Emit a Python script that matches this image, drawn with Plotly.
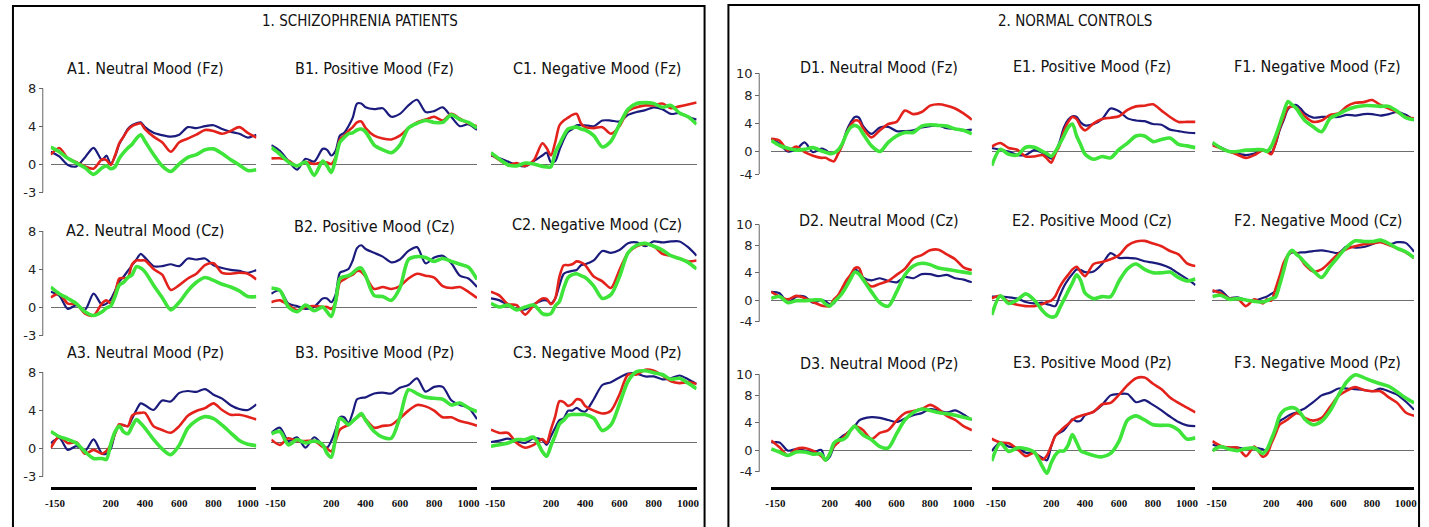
import plotly.graph_objects as go

W, H = 1429, 527

# ---------------------------------------------------------------- data
TIME_MS = [-150, -100, -50, 0, 50, 100, 150, 175, 200, 225, 250, 275, 300, 325,
           350, 375, 400, 450, 500, 550, 600, 650, 700, 750, 800, 850, 900,
           950, 1000, 1050]

# 1. Schizophrenia patients
A1_NAVY = [1.3, 0.8, -0.1, -0.25, 0.7, 1.7, 0.4, 0.9, 0.0, 0.8, 2.1, 2.9, 3.7, 4.1, 4.3, 4.4, 3.9, 3.3, 3.05, 2.9, 3.1, 3.9, 3.8, 4.0, 4.1, 3.7, 3.4, 3.2, 2.8, 3.1]
A1_RED = [1.0, 1.7, 0.6, 0.2, -0.25, -0.5, 0.5, 0.4, -0.1, 0.9, 2.2, 2.9, 3.6, 4.0, 4.2, 4.3, 3.7, 2.9, 2.3, 1.3, 2.3, 2.7, 3.1, 3.6, 3.5, 3.2, 3.5, 3.9, 3.3, 2.8]
A1_GREEN = [1.8, 1.3, 0.6, 0.1, -0.4, -1.1, -0.4, -0.2, -0.5, -0.3, 0.6, 1.2, 1.7, 2.1, 2.7, 3.1, 2.4, 1.0, -0.2, -0.8, 0.0, 0.7, 1.0, 1.5, 1.6, 1.1, 0.45, -0.1, -0.7, -0.6]

B1_NAVY = [2.0, 1.4, 0.3, -0.6, 0.55, 0.25, 1.6, 1.5, 0.9, 1.4, 3.0, 3.3, 4.0, 4.9, 6.4, 6.4, 6.0, 5.8, 5.9, 5.0, 5.3, 6.2, 6.8, 5.5, 5.6, 6.0, 5.0, 4.0, 4.2, 3.6]
B1_RED = [0.6, 0.6, 0.35, -0.2, 0.2, 0.0, 0.2, 0.15, 0.0, 0.7, 2.6, 3.0, 3.5, 3.9, 4.4, 4.5, 3.8, 3.0, 2.7, 2.6, 3.0, 3.8, 4.4, 4.7, 5.0, 4.6, 5.3, 4.8, 4.3, 4.0]
B1_GREEN = [1.75, 1.05, 0.2, -0.2, 0.2, -1.2, 0.3, -0.2, -0.9, 0.5, 2.3, 2.8, 3.2, 3.3, 3.6, 3.7, 3.4, 2.0, 1.5, 1.2, 2.0, 3.8, 4.3, 4.6, 4.4, 4.4, 5.2, 4.7, 4.4, 3.8]

C1_NAVY = [0.9, 0.6, 0.25, -0.1, -0.25, 0.3, 0.9, 1.2, 0.2, 0.3, 1.5, 2.6, 3.4, 3.7, 4.1, 4.1, 4.1, 4.0, 4.6, 4.6, 4.5, 5.2, 5.5, 5.7, 6.0, 5.8, 5.3, 5.4, 5.0, 4.7]
C1_RED = [1.05, 0.4, -0.1, 0.1, -0.2, 0.4, 2.2, 1.7, 0.9, 2.3, 4.1, 4.6, 4.9, 5.2, 5.3, 4.3, 3.9, 3.8, 3.9, 3.2, 4.0, 5.6, 6.0, 6.2, 6.2, 6.4, 5.9, 6.1, 6.3, 6.5]
C1_GREEN = [1.2, 0.5, -0.1, -0.2, 0.1, 0.0, -0.25, -0.3, -0.3, 1.2, 2.1, 3.0, 3.7, 3.85, 3.9, 3.7, 3.6, 3.0, 1.8, 2.4, 4.2, 5.8, 6.4, 6.5, 6.4, 6.0, 6.2, 5.4, 5.0, 4.2]

A2_NAVY = [1.6, 1.2, -0.2, 0.2, -0.3, 1.4, 0.2, 0.35, 0.8, 1.7, 2.7, 3.2, 3.8, 4.4, 5.0, 5.6, 5.2, 4.3, 4.3, 4.5, 4.3, 5.1, 5.0, 5.1, 4.4, 4.1, 3.9, 3.8, 3.6, 3.9]
A2_RED = [1.0, 1.4, 0.35, 0.3, -0.7, -0.9, 0.4, 0.7, 0.4, 1.4, 3.0, 3.05, 3.1, 4.5, 4.9, 4.9, 4.9, 4.0, 3.4, 1.8, 2.3, 3.0, 3.5, 4.4, 4.6, 3.6, 3.5, 3.6, 3.5, 2.9]
A2_GREEN = [2.1, 1.4, 0.9, 0.35, -0.5, -0.9, -0.5, -0.1, 0.1, 1.1, 2.3, 2.6, 3.1, 3.4, 4.25, 4.1, 3.7, 2.3, 1.0, -0.3, 0.5, 1.7, 2.6, 3.1, 2.8, 2.4, 2.1, 1.7, 1.1, 1.1]

B2_NAVY = [1.4, 1.75, 0.35, 0.1, -0.2, 0.0, 0.9, 0.9, 0.5, 1.3, 3.6, 3.8, 4.0, 4.9, 6.2, 6.5, 6.1, 5.7, 5.3, 4.7, 5.0, 5.9, 6.3, 4.6, 5.2, 5.4, 4.6, 3.3, 3.0, 2.1]
B2_RED = [0.5, 0.7, 0.2, -0.35, 0.0, 0.1, 0.0, 0.0, -0.2, 0.5, 2.6, 2.9, 3.2, 3.4, 3.8, 3.7, 3.2, 1.9, 2.1, 1.9, 2.2, 3.0, 3.5, 3.3, 3.1, 2.2, 2.0, 2.1, 1.6, 0.95]
B2_GREEN = [2.0, 1.75, 0.0, -0.5, 0.2, -0.4, 0.0, -0.5, -1.0, 0.6, 3.0, 3.2, 3.3, 3.6, 4.0, 4.1, 3.3, 1.2, 1.1, 0.7, 2.0, 5.0, 5.3, 5.2, 4.8, 5.1, 4.8, 4.5, 4.2, 2.9]

C2_NAVY = [0.9, 0.7, 0.2, -0.2, -0.25, 0.3, 0.7, 0.7, 0.4, 0.9, 2.3, 3.5, 3.7, 3.8, 3.9, 4.4, 4.5, 4.9, 5.9, 5.7, 6.0, 6.7, 6.8, 6.4, 6.9, 6.8, 6.9, 6.9, 6.3, 5.4]
C2_RED = [1.6, 1.2, 0.3, 0.2, -0.8, 0.2, 0.9, 0.85, 0.3, 0.9, 3.2, 4.4, 4.4, 4.5, 4.8, 4.7, 4.4, 3.2, 2.7, 2.0, 3.9, 5.7, 6.4, 6.6, 6.4, 5.6, 5.4, 5.1, 4.8, 4.9]
C2_GREEN = [0.4, 0.0, 0.2, -0.3, 0.0, 0.2, -0.7, -0.8, -0.7, 0.1, 0.6, 2.0, 3.1, 3.4, 3.5, 3.3, 3.1, 2.2, 0.9, 1.3, 3.2, 5.7, 6.5, 6.7, 6.4, 6.0, 5.4, 5.1, 4.7, 4.0]

A3_NAVY = [0.5, 1.05, -0.2, 0.2, -0.3, 0.9, -0.6, -0.6, -0.1, 1.5, 2.4, 2.4, 2.3, 3.1, 4.0, 4.7, 4.5, 4.0, 5.0, 4.9, 5.8, 6.0, 5.9, 6.2, 5.6, 5.2, 4.5, 4.1, 4.0, 4.6]
A3_RED = [0.0, 1.2, 0.5, 0.6, -0.6, -0.2, -0.6, -0.3, 0.3, 1.5, 2.5, 2.4, 2.3, 3.4, 3.65, 3.7, 3.7, 2.3, 1.9, 1.6, 2.3, 3.4, 3.9, 4.2, 4.7, 4.0, 3.5, 3.5, 3.3, 3.0]
A3_GREEN = [1.75, 1.2, 0.9, 0.5, -0.4, -1.1, -1.1, -1.2, 0.4, 1.7, 2.3, 1.7, 1.5, 2.3, 3.0, 2.6, 2.1, 0.9, -0.1, -0.7, 0.3, 2.1, 2.9, 3.3, 3.1, 2.4, 1.6, 0.8, 0.4, 0.25]

B3_NAVY = [0.95, 1.5, 0.1, 0.5, -0.6, 0.5, -0.3, -0.6, 0.1, 1.3, 2.6, 2.6, 2.0, 3.1, 4.5, 4.65, 4.7, 5.1, 5.2, 5.1, 5.7, 6.0, 6.7, 5.3, 5.8, 5.8, 4.4, 3.9, 3.6, 2.4]
B3_RED = [0.25, -0.3, 0.4, 0.1, 0.1, 0.1, -0.5, -0.7, -1.0, 0.1, 1.3, 1.6, 1.8, 2.2, 2.6, 2.85, 2.4, 1.5, 1.7, 1.8, 2.5, 3.3, 3.9, 3.75, 3.3, 2.6, 2.6, 2.2, 2.0, 1.7]
B3_GREEN = [0.85, 1.1, -0.3, 0.25, -0.1, 0.1, -0.3, -1.2, -1.6, 0.5, 2.5, 2.2, 1.8, 2.2, 2.6, 3.0, 2.3, 1.1, 0.5, 0.4, 2.6, 5.5, 5.1, 4.7, 4.6, 4.5, 3.9, 4.1, 3.6, 3.2]

C3_NAVY = [0.0, 0.15, 0.35, 0.1, -0.1, 0.4, 0.2, -0.3, 0.6, 1.5, 2.3, 2.5, 3.3, 3.3, 3.6, 3.3, 3.2, 4.5, 6.0, 6.3, 6.8, 7.2, 7.2, 6.9, 6.9, 6.6, 6.7, 7.0, 6.6, 6.1]
C3_RED = [1.3, 0.95, 0.95, -0.1, -0.6, -0.3, 0.3, -0.1, 1.3, 2.7, 4.3, 4.2, 3.8, 4.0, 4.5, 4.4, 3.8, 3.3, 3.0, 3.3, 5.0, 7.1, 7.1, 7.6, 7.5, 7.0, 6.4, 6.2, 6.3, 6.1]
C3_GREEN = [-0.45, -0.3, -0.1, 0.25, 0.25, 0.5, -1.0, -1.5, -0.4, 0.7, 1.9, 2.3, 2.8, 2.9, 2.9, 2.9, 2.9, 2.5, 1.2, 1.8, 4.0, 6.4, 7.4, 7.5, 7.3, 7.1, 6.6, 6.7, 6.2, 5.6]

# 2. Normal controls
D1_NAVY = [1.8, 1.1, 0.0, 0.3, 1.3, -0.1, 0.4, 0.2, -0.2, -0.2, 0.1, 1.0, 2.9, 4.1, 4.9, 4.8, 3.6, 2.5, 3.4, 3.5, 2.9, 2.9, 3.0, 3.4, 3.6, 3.7, 3.3, 3.2, 3.0, 3.1]
D1_RED = [1.8, 1.55, 0.15, 0.7, -0.1, -0.6, -0.9, -0.9, -1.2, -1.4, -0.35, 0.9, 2.6, 3.7, 4.4, 4.3, 3.3, 2.0, 3.0, 3.9, 4.2, 5.8, 5.3, 5.6, 6.5, 6.7, 6.5, 6.1, 5.4, 4.5]
D1_GREEN = [1.55, 0.85, 0.45, 0.2, 0.3, 0.55, 0.1, -0.1, -0.3, -0.2, 0.2, 1.1, 2.5, 3.4, 3.7, 3.4, 2.5, 0.8, 0.0, 1.3, 2.2, 2.7, 2.7, 3.6, 3.8, 3.7, 3.6, 3.2, 3.0, 2.5]

E1_NAVY = [0.5, 0.25, 0.0, -0.5, -0.5, 0.2, -0.2, -0.6, -1.0, -0.2, 1.4, 3.4, 4.5, 5.0, 4.9, 4.1, 3.7, 3.9, 4.6, 6.1, 5.7, 4.7, 4.4, 4.3, 3.9, 3.8, 3.1, 2.9, 2.7, 2.6]
E1_RED = [0.7, 1.2, 0.5, 0.25, -0.7, -0.7, -0.5, -1.0, -1.6, -0.3, 0.9, 2.9, 4.2, 4.9, 4.6, 3.5, 3.0, 4.0, 4.6, 4.8, 5.0, 5.9, 6.4, 6.5, 6.7, 5.8, 4.9, 4.2, 4.2, 4.2]
E1_GREEN = [-2.0, 0.3, -0.4, -0.5, 0.6, 0.6, 0.0, -0.3, -0.7, 0.0, 1.1, 2.2, 3.4, 3.9, 2.2, 0.9, -0.4, -1.1, -0.7, -0.9, 0.3, 1.2, 2.2, 2.2, 1.4, 1.7, 1.9, 1.0, 0.8, 0.55]

F1_NAVY = [1.1, 0.6, 0.0, -0.3, -0.5, -0.3, 0.2, 0.1, -0.2, 1.0, 3.0, 4.5, 6.0, 6.5, 6.6, 6.1, 5.4, 4.8, 4.9, 4.9, 4.9, 5.2, 5.1, 5.3, 5.3, 5.1, 5.3, 5.6, 5.2, 4.4]
F1_RED = [0.9, 0.45, 0.0, -0.45, -0.9, -0.5, 0.2, 0.0, -0.4, 1.1, 3.3, 4.8, 6.2, 6.4, 6.2, 5.6, 5.0, 4.2, 4.4, 5.2, 5.4, 6.4, 6.9, 7.0, 7.3, 6.6, 6.1, 5.6, 4.9, 4.7]
F1_GREEN = [1.3, 0.5, 0.0, 0.0, 0.2, 0.25, 0.25, 0.0, 0.7, 2.1, 3.8, 5.6, 7.1, 6.6, 6.1, 5.2, 4.4, 3.5, 2.8, 4.7, 5.3, 5.9, 6.3, 6.5, 6.5, 6.4, 6.4, 5.7, 4.8, 4.5]

D2_NAVY = [1.2, 1.0, -0.4, 0.5, 0.5, -0.4, 0.0, -0.2, -0.6, -0.5, 0.5, 1.0, 2.8, 3.2, 4.5, 4.1, 3.3, 2.9, 3.2, 2.8, 2.6, 3.4, 3.2, 3.8, 3.8, 3.5, 3.7, 3.2, 3.0, 2.6]
D2_RED = [1.2, 0.5, 0.1, 0.6, 0.3, -0.3, -0.8, -0.9, -0.9, 0.1, 0.7, 1.8, 2.9, 3.7, 4.7, 4.7, 3.2, 2.0, 2.4, 2.8, 3.7, 4.6, 6.1, 6.6, 7.3, 7.4, 6.7, 6.0, 4.8, 4.4]
D2_GREEN = [0.25, 0.5, -0.4, -0.1, -0.1, 0.0, 0.0, -0.6, -0.9, -0.3, 0.3, 1.0, 2.0, 3.1, 4.1, 3.8, 3.0, 1.2, -0.4, -0.9, 1.2, 3.7, 5.0, 5.4, 5.2, 4.7, 4.5, 4.3, 4.1, 3.9]

E2_NAVY = [0.5, 0.5, 0.4, 0.2, -0.3, -0.5, -0.4, -0.6, -0.8, -0.9, 0.6, 2.0, 3.0, 3.8, 4.5, 4.4, 4.1, 4.2, 5.3, 6.9, 6.2, 6.2, 6.1, 5.7, 5.5, 5.2, 4.7, 3.9, 3.1, 2.2]
E2_RED = [0.25, 0.6, -0.3, -0.7, -0.9, -0.9, -0.6, -0.3, -0.1, 0.6, 1.9, 2.9, 3.7, 4.5, 4.9, 4.1, 3.5, 5.3, 5.6, 6.0, 6.6, 8.0, 8.6, 8.7, 8.3, 7.9, 7.2, 6.7, 5.4, 5.0]
E2_GREEN = [-2.2, 0.6, -0.5, 0.0, 0.9, 0.0, -1.6, -2.2, -2.5, -2.4, -1.2, 0.05, 1.3, 2.5, 3.7, 2.8, 1.0, 0.2, 0.5, 0.5, 2.8, 4.6, 5.3, 4.5, 4.0, 4.0, 4.1, 3.3, 2.8, 3.1]

F2_NAVY = [1.2, 1.4, 0.3, 0.4, 0.0, -0.1, 0.3, 0.5, 0.9, 1.3, 2.8, 4.7, 6.5, 7.0, 6.9, 7.0, 7.0, 7.2, 7.3, 7.1, 6.9, 7.9, 7.7, 7.8, 8.2, 8.7, 8.2, 8.5, 8.4, 7.1]
F2_RED = [1.45, 1.0, 0.2, 0.2, -0.9, 0.1, -0.5, 0.1, -0.1, 1.6, 3.5, 5.5, 6.6, 7.1, 6.9, 6.1, 5.2, 4.2, 4.5, 5.6, 6.8, 7.5, 7.9, 8.2, 8.3, 8.5, 8.1, 7.6, 7.0, 6.2]
F2_GREEN = [0.5, 0.7, 0.1, 0.2, 0.0, -0.2, -0.3, -0.1, 0.2, 0.4, 2.2, 4.4, 6.6, 7.3, 6.7, 6.2, 5.5, 4.3, 3.3, 4.9, 6.4, 7.8, 8.7, 8.6, 8.6, 8.8, 8.3, 7.6, 7.1, 6.2]

D3_NAVY = [1.1, 1.1, -0.1, 0.15, -0.1, -0.35, 0.0, -1.5, -1.0, 0.5, 1.5, 2.0, 2.4, 2.9, 3.5, 4.3, 4.6, 4.8, 4.7, 4.4, 4.1, 4.6, 5.1, 5.4, 6.0, 5.8, 5.5, 5.8, 5.2, 4.4]
D3_RED = [1.4, 0.4, -0.8, 0.15, 0.3, -0.1, -0.9, -1.5, -0.5, 0.5, 1.1, 1.7, 2.3, 2.9, 3.5, 3.3, 2.9, 1.6, 2.5, 2.9, 4.3, 5.4, 5.7, 6.0, 6.6, 6.0, 5.0, 4.4, 3.5, 2.9]
D3_GREEN = [0.15, -0.3, -0.8, -0.3, -0.3, -0.6, -0.6, -1.5, -0.6, 1.0, 1.45, 1.5, 1.9, 2.9, 3.5, 2.8, 2.2, 1.5, 0.5, 0.3, 2.4, 4.4, 5.5, 6.0, 5.8, 5.5, 5.3, 5.1, 4.8, 4.5]

E3_NAVY = [-0.15, 1.1, 0.5, 0.3, -0.4, -0.45, -1.2, -1.5, 0.5, 2.1, 2.5, 2.9, 3.7, 4.5, 4.2, 4.3, 5.1, 5.6, 6.6, 8.0, 8.2, 8.2, 7.0, 7.3, 6.6, 5.8, 4.9, 4.1, 3.6, 3.5]
E3_RED = [1.65, 1.1, 1.0, 0.15, -0.9, -0.4, -1.4, -0.8, 0.6, 2.1, 2.7, 3.3, 3.8, 4.4, 4.8, 5.0, 5.2, 5.6, 6.7, 6.9, 8.1, 9.5, 10.5, 10.6, 9.7, 8.9, 7.7, 6.9, 6.2, 5.5]
E3_GREEN = [-1.6, 1.0, -0.2, 0.3, 0.2, -0.3, -2.5, -3.4, -1.9, -0.7, -0.15, -0.15, 0.7, 2.25, 1.1, -0.15, -0.4, -0.8, -1.0, -0.5, 1.3, 4.4, 5.0, 4.4, 3.7, 3.6, 3.6, 2.9, 1.6, 1.8]

F3_NAVY = [0.8, 0.4, 0.35, 0.35, 0.15, 0.3, 0.1, -0.2, 1.4, 2.8, 4.2, 4.6, 5.0, 5.3, 5.5, 5.8, 6.1, 7.0, 8.0, 8.4, 9.0, 9.0, 8.9, 8.8, 8.6, 9.0, 8.6, 8.1, 7.1, 5.9]
F3_RED = [1.3, 0.6, 0.35, 0.35, -0.9, 0.5, -1.0, -0.6, 0.9, 2.3, 3.7, 4.1, 4.5, 5.0, 5.4, 5.2, 4.7, 4.3, 4.7, 6.3, 7.9, 8.7, 9.2, 8.8, 8.6, 8.6, 7.7, 6.9, 5.5, 5.0]
F3_GREEN = [-0.1, 0.5, 0.1, -0.1, 0.2, 0.3, -0.5, 0.1, 1.5, 3.1, 5.0, 5.8, 6.1, 6.2, 6.0, 5.4, 4.5, 3.7, 4.2, 5.7, 8.0, 10.0, 11.0, 10.6, 10.1, 9.7, 9.3, 8.5, 7.6, 6.9]

GROUP_TITLES = ["1. SCHIZOPHRENIA PATIENTS", "2. NORMAL CONTROLS"]
PANEL_TITLES = [
    "A1. Neutral Mood (Fz)", "B1. Positive Mood (Fz)", "C1. Negative Mood (Fz)",
    "A2. Neutral Mood (Cz)", "B2. Positive Mood (Cz)", "C2. Negative Mood (Cz)",
    "A3. Neutral Mood (Pz)", "B3. Positive Mood (Pz)", "C3. Negative Mood (Pz)",
    "D1. Neutral Mood (Fz)", "E1. Positive Mood (Fz)", "F1. Negative Mood (Fz)",
    "D2. Neutral Mood (Cz)", "E2. Positive Mood (Cz)", "F2. Negative Mood (Cz)",
    "D3. Neutral Mood (Pz)", "E3. Positive Mood (Pz)", "F3. Negative Mood (Pz)",
]
PANEL_SERIES = [
    (A1_NAVY, A1_RED, A1_GREEN), (B1_NAVY, B1_RED, B1_GREEN), (C1_NAVY, C1_RED, C1_GREEN),
    (A2_NAVY, A2_RED, A2_GREEN), (B2_NAVY, B2_RED, B2_GREEN), (C2_NAVY, C2_RED, C2_GREEN),
    (A3_NAVY, A3_RED, A3_GREEN), (B3_NAVY, B3_RED, B3_GREEN), (C3_NAVY, C3_RED, C3_GREEN),
    (D1_NAVY, D1_RED, D1_GREEN), (E1_NAVY, E1_RED, E1_GREEN), (F1_NAVY, F1_RED, F1_GREEN),
    (D2_NAVY, D2_RED, D2_GREEN), (E2_NAVY, E2_RED, E2_GREEN), (F2_NAVY, F2_RED, F2_GREEN),
    (D3_NAVY, D3_RED, D3_GREEN), (E3_NAVY, E3_RED, E3_GREEN), (F3_NAVY, F3_RED, F3_GREEN),
]
for trio in PANEL_SERIES:
    for vals in trio:
        assert len(vals) == len(TIME_MS)

# the first time label sits a little inside the start of each trace
X_TICKS = [-125, 200, 400, 600, 800, 1000]
X_LABELS = ["-150", "200", "400", "600", "800", "1000"]
Y_TICKS = [[-3, 0, 4, 8], [-3.2, 0, 4, 8, 11.1]]
Y_LABELS = [["-3", "0", "4", "8"], ["-4", "0", "4", "8", "10"]]

# ---------------------------------------------------------------- style
LINE_COLORS = ["#1b1b7d", "#e3221c", "#3ee43a"]
LINE_WIDTHS = [2.2, 2.6, 3.6]
NARROW = "Liberation Sans Narrow, Arial Narrow, DejaVu Sans Condensed, sans-serif"
TICK_FONT = dict(family="DejaVu Sans, Verdana, sans-serif", size=13, color="#222")
XTICK_FONT = dict(family="Liberation Serif, Times New Roman, serif", size=11,
                  color="#111", weight="bold")

# pixel layout: column spans, row bands (top, bottom, zero line, px per unit)
COLS = [[(45, 252), (267, 474), (488, 695)],
        [(770, 972), (992, 1197), (1214, 1417)]]
ROWS = [[(80, 200, 164, 9.45), (220, 345, 307, 9.5), (362, 487, 448, 9.5)],
        [(66, 190, 151.5, 7.05), (212, 340, 300, 6.8), (364, 487, 450, 6.83)]]
ZERO_SHIFT = {(0, 2, 1): 442, (0, 2, 2): 442}
AXIS_X = [37, 758]
TITLE_XY = [
    [[(140, 68), (371, 68), (595, 68)],
     [(140, 230), (371, 227), (595, 224)],
     [(140, 352), (371, 352), (595, 352)]],
    [[(879, 67), (1093, 66), (1320, 66)],
     [(879, 220), (1093, 220), (1320, 220)],
     [(879, 363), (1093, 362), (1320, 362)]],
]
GROUP_XY = [(356, 21), (1076, 21)]
BOXES = [(7, 6, 703, 540), (727, 5, 1422, 540)]


def px_x(px):
    return px / W


def px_y(py):
    return 1 - py / H


fig = go.Figure()
layout = {}
shapes = []
annotations = []

for g in range(2):
    for r in range(3):
        for c in range(3):
            k = g * 9 + r * 3 + c
            sfx = "" if k == 0 else str(k + 1)
            x0, x1 = COLS[g][c]
            top, bot, zero, ppu = ROWS[g][r]
            zero = ZERO_SHIFT.get((g, r, c), zero)
            lo = -(bot - zero) / ppu
            hi = (zero - top) / ppu

            xa = dict(domain=[px_x(x0), px_x(x1)], range=[-150, 1050],
                      anchor="y" + sfx, showgrid=False, zeroline=False,
                      fixedrange=True)
            if r == 2:
                xa.update(showline=True, linecolor="black", linewidth=3,
                          tickmode="array", tickvals=X_TICKS, ticktext=X_LABELS,
                          ticks="", tickfont=XTICK_FONT, ticklabelstandoff=4)
            else:
                xa.update(visible=False)

            ya = dict(domain=[px_y(bot), px_y(top)], range=[lo, hi],
                      showgrid=False, zeroline=True, zerolinecolor="#6e6e6e",
                      zerolinewidth=1, fixedrange=True)
            if c == 0:
                ya.update(anchor="free", position=px_x(AXIS_X[g]),
                          tickmode="array", tickvals=Y_TICKS[g],
                          ticktext=Y_LABELS[g], ticks="outside", ticklen=4,
                          tickcolor="#666", tickwidth=1, tickfont=TICK_FONT,
                          showline=False)
                shapes.append(dict(type="line", xref="paper", yref="y" + sfx,
                                   x0=px_x(AXIS_X[g]), x1=px_x(AXIS_X[g]),
                                   y0=Y_TICKS[g][0], y1=Y_TICKS[g][-1],
                                   line=dict(color="#666", width=1)))
            else:
                ya.update(anchor="x" + sfx, showticklabels=False, ticks="")

            layout["xaxis" + sfx] = xa
            layout["yaxis" + sfx] = ya

            for s, vals in enumerate(PANEL_SERIES[k]):
                fig.add_trace(go.Scatter(
                    x=TIME_MS, y=vals, mode="lines",
                    line=dict(color=LINE_COLORS[s], width=LINE_WIDTHS[s],
                              shape="spline", smoothing=0.8),
                    xaxis="x" + sfx, yaxis="y" + sfx,
                    showlegend=False, hoverinfo="skip"))

            tx, ty = TITLE_XY[g][r][c]
            annotations.append(dict(
                text=PANEL_TITLES[k], xref="paper", yref="paper",
                x=px_x(tx), y=px_y(ty), xanchor="center", yanchor="middle",
                showarrow=False, font=dict(family=NARROW, size=16, color="#111")))

for g in range(2):
    gx, gy = GROUP_XY[g]
    annotations.append(dict(
        text=GROUP_TITLES[g], xref="paper", yref="paper",
        x=px_x(gx), y=px_y(gy), xanchor="center", yanchor="middle",
        showarrow=False, font=dict(family=NARROW, size=15, color="#111")))
    bx0, by0, bx1, by1 = BOXES[g]
    shapes.append(dict(type="rect", xref="paper", yref="paper",
                       x0=px_x(bx0), x1=px_x(bx1), y0=px_y(by1), y1=px_y(by0),
                       line=dict(color="black", width=2), layer="below"))

fig.update_layout(
    width=W, height=H, autosize=False,
    margin=dict(l=0, r=0, t=0, b=0, pad=0),
    paper_bgcolor="white", plot_bgcolor="white",
    showlegend=False, shapes=shapes, annotations=annotations,
    **layout)

fig.write_html("out.html", config={"displayModeBar": False})
